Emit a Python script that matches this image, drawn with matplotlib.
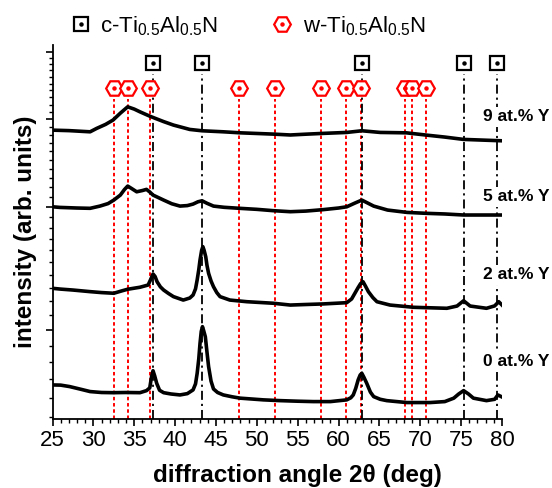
import matplotlib
matplotlib.use("Agg")
import matplotlib.pyplot as plt
from matplotlib.ticker import FixedLocator, NullFormatter, MultipleLocator

plt.rcParams['font.family'] = ['Liberation Sans', 'DejaVu Sans']
plt.rcParams['mathtext.fontset'] = 'custom'
plt.rcParams['mathtext.rm'] = 'Liberation Sans'
plt.rcParams['mathtext.it'] = 'Liberation Sans:italic'
plt.rcParams['mathtext.bf'] = 'Liberation Sans:bold'

# ---- diffraction patterns (2theta in deg, intensity in counts) ----
tth_0 = [25, 26, 27.1, 28.5, 29.6, 31, 32.4, 34, 35.7, 36.5, 36.9, 37.1, 37.3, 37.5,
         37.75, 38.1, 38.6, 39.5, 40.6, 41.5, 42.2, 42.5, 42.7, 42.9, 43.05, 43.2,
         43.35, 43.5, 43.7, 43.9, 44.1, 44.4, 44.7, 45.2, 45.9, 47, 47.95, 50.8,
         52.85, 55, 56.9, 59, 61, 61.5, 61.8, 62.1, 62.4, 62.65, 62.85, 63.1, 63.45,
         63.9, 64.3, 65.1, 65.9, 68.35, 71.2, 73, 74.1, 74.7, 75.3, 75.9, 76.5, 78.1,
         79.1, 79.5, 80]
int_0 = [1669, 1668, 1660, 1645, 1633, 1628, 1627, 1628, 1627, 1638, 1653, 1710, 1749, 1720,
         1678, 1640, 1627, 1620, 1615, 1622, 1642, 1675, 1734, 1820, 1914, 1990,
         2022, 1995, 1956, 1860, 1773, 1690, 1647, 1628, 1615, 1605, 1598, 1589,
         1585, 1582, 1580, 1580, 1589, 1600, 1615, 1650, 1697, 1725, 1734, 1712, 1678,
         1630, 1606, 1592, 1585, 1575, 1575, 1580, 1598, 1620, 1638, 1620, 1598, 1585,
         1592, 1615, 1604]

tth_2 = [25, 26, 27.5, 29.6, 31, 32.5, 33.5, 34.2, 35.7, 36.7, 37.0, 37.3, 37.55, 37.8,
         38.2, 38.6, 39.2, 39.8, 41, 41.8, 42.2, 42.5, 42.7, 42.9, 43.05, 43.25, 43.4,
         43.55, 43.75, 43.9, 44.1, 44.4, 44.7, 45.1, 45.5, 46.7, 48.8, 52, 54.1, 56,
         58.1, 61, 61.6, 62.0, 62.4, 62.7, 63.0, 63.3, 63.65, 64.2, 64.7, 66.3, 69.2,
         73.25, 74.5, 75.3, 76.1, 78.1, 79.1, 79.6, 80]
int_2 = [2294, 2288, 2281, 2269, 2262, 2257, 2275, 2287, 2302, 2319, 2360, 2405, 2385, 2344,
         2305, 2281, 2255, 2232, 2207, 2222, 2244, 2290, 2358, 2440, 2518, 2600, 2631,
         2600, 2545, 2475, 2410, 2350, 2306, 2262, 2232, 2207, 2195, 2184, 2171, 2175,
         2179, 2188, 2215, 2257, 2300, 2330, 2344, 2310, 2269, 2225, 2195, 2171, 2155,
         2148, 2164, 2202, 2164, 2148, 2165, 2195, 2171]

tth_5 = [25, 25.9, 28, 29.6, 30.8, 31.8, 32.5, 33.3, 33.8, 34.2, 34.7, 35.3, 36, 36.5,
         36.9, 37.3, 38.6, 39.6, 40.6, 41.5, 42.2, 42.8, 43.3, 43.9, 44.7, 46, 47.9,
         50, 52, 54.1, 56, 58.1, 60, 61, 62.0, 62.85, 63.5, 64.3, 66, 68.4, 70.8, 73,
         75.3, 79.4, 80]
int_5 = [3000, 2994, 2988, 2985, 3007, 3032, 3067, 3118, 3175, 3212, 3185, 3152, 3165, 3177,
         3150, 3118, 3067, 3030, 3007, 3012, 3027, 3050, 3060, 3035, 3007, 2995, 2985,
         2975, 2962, 2952, 2958, 2972, 2988, 3000, 3037, 3067, 3040, 3007, 2968, 2945, 2936, 2930,
         2920, 2920, 2920]

tth_9 = [25, 27, 29.6, 30.4, 31.5, 32.4, 33.3, 34.2, 35.0, 35.7, 36.9, 37.5, 38.6, 39.8,
         41.8, 43.3, 45.9, 48, 52, 54.1, 56, 58.1, 61, 62.85, 65.1, 68.3, 70.8, 73,
         75.3, 77.5, 80]
int_9 = [3861, 3855, 3840, 3883, 3935, 3991, 4083, 4169, 4138, 4101, 4043, 4017, 3971, 3926,
         3870, 3853, 3840, 3827, 3811, 3800, 3810, 3820, 3832, 3853, 3832, 3827, 3798, 3774,
         3745, 3737, 3728]

sample_labels = ['0 at.% Y', '2 at.% Y', '5 at.% Y', '9 at.% Y']

# ---- reference reflections (deg) ----
cubic_pos = [37.25, 43.3, 62.85, 75.3, 79.4]
wurtzite_pos = [32.5, 34.2, 36.95, 47.85, 52.2, 57.85, 60.9, 62.8, 68.1, 69.0, 70.7]

fig = plt.figure(figsize=(5.52, 4.88), dpi=100)
W, H = 552.0, 488.0
x0, x1, y_top, y_bot = 52.5, 502.0, 45.0, 419.0
ax = fig.add_axes([x0 / W, 1 - y_bot / H, (x1 - x0) / W, (y_bot - y_top) / H])
ax.set_yscale('log')
ax.set_xlim(25, 80)
ax.set_ylim(1492, 5110)

# reference lines
ymin = 1492
for p in wurtzite_pos:
    ax.plot([p, p], [ymin, 4276], color='#ff0000', lw=1.4, dashes=(1.8, 1.4), zorder=1)
for p in cubic_pos:
    ax.plot([p, p], [ymin, 4642], color='black', lw=1.3, dashes=(5, 2.2, 1.2, 2.2), zorder=1.5)

# reference markers
sq_y, hx_y = 4821, 4440
ax.plot(wurtzite_pos, [hx_y] * len(wurtzite_pos), ls='none', marker='H', ms=12,
        mfc='white', mec='#ff0000', mew=1.6, zorder=3, clip_on=False)
ax.plot(wurtzite_pos, [hx_y] * len(wurtzite_pos), ls='none', marker='o', ms=2.2,
        color='#ff0000', zorder=4, clip_on=False)
ax.plot(cubic_pos, [sq_y] * len(cubic_pos), ls='none', marker='s', ms=10,
        mfc='white', mec='black', mew=1.6, zorder=3, clip_on=False)
ax.plot(cubic_pos, [sq_y] * len(cubic_pos), ls='none', marker='o', ms=2.2,
        color='black', zorder=4, clip_on=False)

# diffraction patterns
for tth, inten in [(tth_0, int_0), (tth_2, int_2), (tth_5, int_5), (tth_9, int_9)]:
    ax.plot(tth, inten, color='black', lw=2.6, solid_joinstyle='round', zorder=5)

# sample labels (white box hides the reference line behind them)
label_y = [1802, 2397, 3101, 4034]
for lab, yy in zip(sample_labels, label_y):
    ax.text(77.7, yy, lab, fontsize=12.5, fontweight='bold', va='center', ha='left',
            clip_on=False, zorder=6,
            bbox=dict(boxstyle='square,pad=0.15', fc='white', ec='none'))

# axes styling
for s in ['top', 'right']:
    ax.spines[s].set_visible(False)
for s in ['left', 'bottom']:
    ax.spines[s].set_linewidth(1.3)
ax.xaxis.set_major_locator(MultipleLocator(5))
ax.xaxis.set_minor_locator(MultipleLocator(1))
ax.yaxis.set_major_locator(FixedLocator([2000, 3000, 4000, 5000]))
ax.yaxis.set_minor_locator(FixedLocator([v for v in range(1500, 5100, 100)
                                         if v % 1000 != 0]))
ax.yaxis.set_major_formatter(NullFormatter())
ax.yaxis.set_minor_formatter(NullFormatter())
ax.tick_params(axis='both', which='major', direction='out', length=5, width=1.2,
               labelsize=16, pad=3)
ax.tick_params(axis='both', which='minor', direction='out', length=2.6, width=1.0)

ax.set_xlabel('diffraction angle 2θ (deg)', fontsize=17.5, fontweight='bold')
ax.xaxis.set_label_coords(0.544, -0.12)
ax.set_ylabel('intensity (arb. units)', fontsize=17.5, fontweight='bold')
ax.yaxis.set_label_coords(-0.035, 0.5)

# legend
fig.add_artist(plt.Line2D([81 / W], [1 - 24 / H], marker='s', ms=10, mfc='white',
                          mec='black', mew=1.6, ls='none'))
fig.add_artist(plt.Line2D([81 / W], [1 - 24 / H], marker='o', ms=2.2, color='black', ls='none'))
fig.add_artist(plt.Line2D([282 / W], [1 - 24 / H], marker='H', ms=12, mfc='white',
                          mec='#ff0000', mew=1.6, ls='none'))
fig.add_artist(plt.Line2D([282 / W], [1 - 24 / H], marker='o', ms=2.2, color='#ff0000', ls='none'))
fig.text(100 / W, 1 - 32 / H, r'c-Ti$_\mathregular{0.5}$Al$_\mathregular{0.5}$N',
         fontsize=16, va='baseline', ha='left')
fig.text(303 / W, 1 - 32 / H, r'w-Ti$_\mathregular{0.5}$Al$_\mathregular{0.5}$N',
         fontsize=16, va='baseline', ha='left')

fig.savefig('out.png', dpi=100)
